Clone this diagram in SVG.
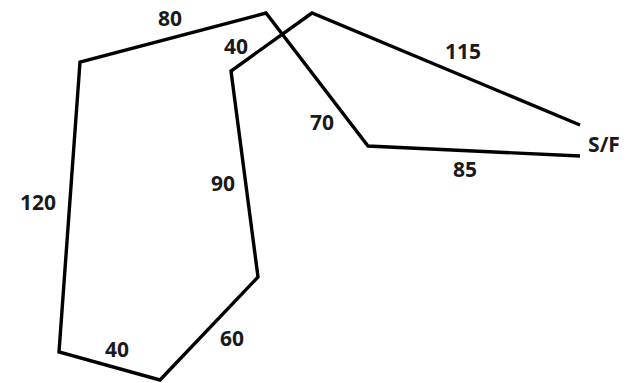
<svg xmlns="http://www.w3.org/2000/svg" width="635" height="383" viewBox="0 0 635 383">
<style>
.edge{fill:none;stroke:#000;stroke-width:3.4;stroke-linejoin:miter;stroke-linecap:butt}
.lbl{font-family:"Open Sans","Liberation Sans",sans-serif;font-weight:700;font-size:21px;fill:#1a1a1a;text-anchor:middle}
</style>
<rect width="635" height="383" fill="#fff"/>
<g id="connectors">
<polyline class="edge" points="580,125 312,13 231,71 258,277 160,380 59,352 80,62 266,13 368,146 580,156"/>
</g>
<g id="labels">
<text class="lbl" x="170" y="26">80</text>
<text class="lbl" x="236" y="54">40</text>
<text class="lbl" x="463" y="59">115</text>
<text class="lbl" x="322" y="130">70</text>
<text class="lbl" x="604" y="152">S/F</text>
<text class="lbl" x="465" y="177">85</text>
<text class="lbl" x="223" y="191">90</text>
<text class="lbl" x="38" y="210">120</text>
<text class="lbl" x="232" y="346">60</text>
<text class="lbl" x="117" y="357">40</text>
</g>
</svg>
